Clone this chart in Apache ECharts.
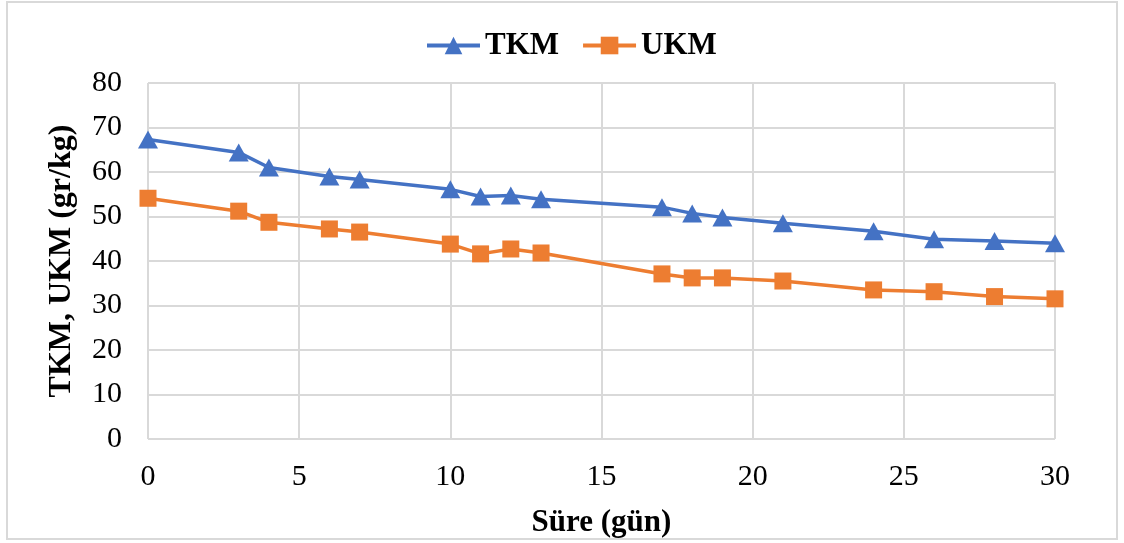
<!DOCTYPE html>
<html>
<head>
<meta charset="utf-8">
<script src="https://cdn.jsdelivr.net/npm/echarts@6/dist/echarts.min.js"></script>
<style>
  html, body { margin: 0; padding: 0; background: #fff; }
  #frame { position: absolute; left: 6px; top: 1px; width: 1112px; height: 539px; border: 2px solid #d9d9d9; box-sizing: border-box; }
  #chart { position: absolute; left: 0; top: 0; width: 1124px; height: 543px; }
</style>
</head>
<body>
<div id="frame"></div>
<div id="chart"></div>
<script>
// Drying time in days
const days = [0, 3, 4, 6, 7, 10, 11, 12, 13, 17, 18, 19, 21, 24, 26, 28, 30];
// TKM values (gr/kg)
const tkm = [67.3, 64.4, 61.0, 59.0, 58.3, 56.1, 54.5, 54.7, 53.9, 52.1, 50.7, 49.8, 48.5, 46.7, 44.9, 44.5, 44.0];
// UKM values (gr/kg)
const ukm = [54.1, 51.2, 48.7, 47.2, 46.5, 43.8, 41.6, 42.7, 41.8, 37.1, 36.2, 36.2, 35.5, 33.5, 33.1, 32.0, 31.5];

const pairs = (xs, ys) => xs.map((x, i) => [x, ys[i]]);
const font = 'Liberation Serif, Times New Roman, serif';

const chart = echarts.init(document.getElementById('chart'));
chart.setOption({
  animation: false,
  textStyle: { fontFamily: font },
  legend: {
    top: 25,
    left: 420,
    itemWidth: 53,
    itemHeight: 22,
    itemGap: 22,
    lineStyle: { width: 4 },
    textStyle: { fontFamily: font, fontSize: 31, fontWeight: 'bold', color: '#000' },
    data: ['TKM', 'UKM']
  },
  grid: { left: 148, right: 69, top: 83, bottom: 102 },
  xAxis: {
    type: 'value',
    min: 0, max: 30, interval: 5,
    name: 'Süre (gün)',
    nameLocation: 'middle',
    nameGap: 68,
    nameTextStyle: { fontFamily: font, fontSize: 31, fontWeight: 'bold', color: '#000' },
    axisLine: { show: false },
    axisTick: { show: false },
    axisLabel: { fontFamily: font, fontSize: 30, color: '#000', margin: 23 },
    splitLine: { show: true, lineStyle: { color: '#d9d9d9', width: 2 } }
  },
  yAxis: {
    type: 'value',
    min: 0, max: 80, interval: 10,
    name: 'TKM, UKM (gr/kg)',
    nameLocation: 'middle',
    nameGap: 70,
    nameTextStyle: { fontFamily: font, fontSize: 32, fontWeight: 'bold', color: '#000' },
    axisLine: { show: false },
    axisTick: { show: false },
    axisLabel: { fontFamily: font, fontSize: 30, color: '#000', margin: 26 },
    splitLine: { show: true, lineStyle: { color: '#d9d9d9', width: 2 } }
  },
  series: [
    {
      name: 'TKM',
      type: 'line',
      data: pairs(days, tkm),
      symbol: 'triangle',
      symbolSize: [20, 18],
      lineStyle: { color: '#4472C4', width: 3.5 },
      itemStyle: { color: '#4472C4' }
    },
    {
      name: 'UKM',
      type: 'line',
      data: pairs(days, ukm),
      symbol: 'rect',
      symbolSize: 17,
      lineStyle: { color: '#ED7D31', width: 3.5 },
      itemStyle: { color: '#ED7D31' }
    }
  ]
});
</script>
</body>
</html>
